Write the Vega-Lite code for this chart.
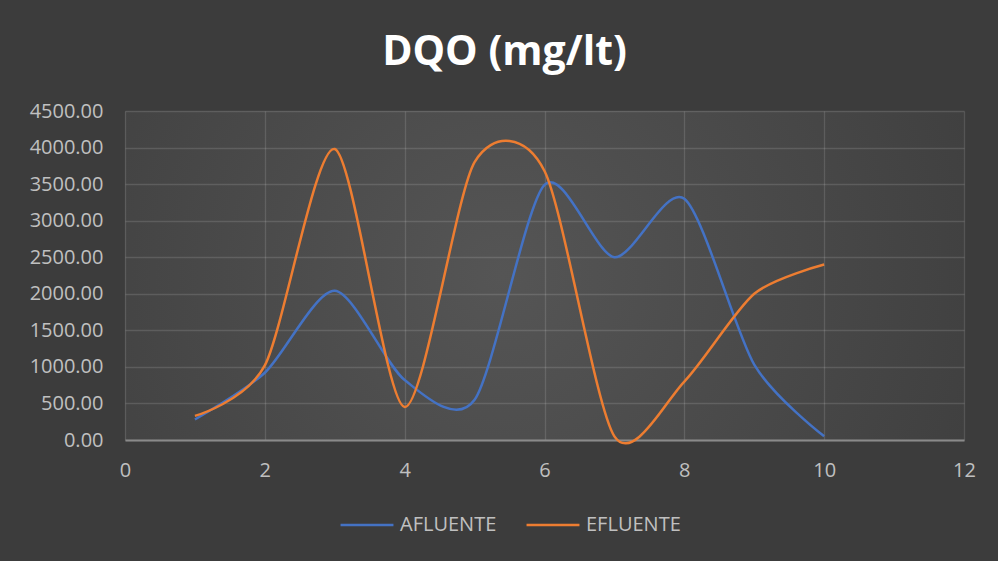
{
  "$schema": "https://vega.github.io/schema/vega-lite/v6.json",
  "width": 839,
  "height": 329,
  "autosize": "none",
  "padding": {"left": 125, "top": 111, "right": 34, "bottom": 121},
  "background": "#3c3c3c",
  "title": {
    "text": "DQO (mg/lt)",
    "font": "Open Sans",
    "fontSize": 41,
    "fontWeight": "bold",
    "color": "#ffffff",
    "anchor": "middle",
    "frame": "group",
    "baseline": "alphabetic",
    "offset": -5,
    "dx": -40
  },
  "data": {
    "values": [
      {"x": 1, "serie": "AFLUENTE", "valor": 280},
      {"x": 2, "serie": "AFLUENTE", "valor": 920},
      {"x": 3, "serie": "AFLUENTE", "valor": 2040},
      {"x": 4, "serie": "AFLUENTE", "valor": 820},
      {"x": 5, "serie": "AFLUENTE", "valor": 550},
      {"x": 6, "serie": "AFLUENTE", "valor": 3490},
      {"x": 7, "serie": "AFLUENTE", "valor": 2500},
      {"x": 8, "serie": "AFLUENTE", "valor": 3300},
      {"x": 9, "serie": "AFLUENTE", "valor": 1030},
      {"x": 10, "serie": "AFLUENTE", "valor": 50},
      {"x": 1, "serie": "EFLUENTE", "valor": 330},
      {"x": 2, "serie": "EFLUENTE", "valor": 1020},
      {"x": 3, "serie": "EFLUENTE", "valor": 3980},
      {"x": 4, "serie": "EFLUENTE", "valor": 450},
      {"x": 5, "serie": "EFLUENTE", "valor": 3800},
      {"x": 6, "serie": "EFLUENTE", "valor": 3680},
      {"x": 7, "serie": "EFLUENTE", "valor": 50},
      {"x": 8, "serie": "EFLUENTE", "valor": 800},
      {"x": 9, "serie": "EFLUENTE", "valor": 2000},
      {"x": 10, "serie": "EFLUENTE", "valor": 2400}
    ]
  },
  "mark": {"type": "line", "interpolate": "cardinal", "tension": 0.2, "strokeWidth": 2.5, "clip": false},
  "encoding": {
    "x": {
      "field": "x",
      "type": "quantitative",
      "scale": {"domain": [0, 12], "nice": false, "zero": false},
      "axis": {
        "title": null,
        "values": [0, 2, 4, 6, 8, 10, 12],
        "format": "d",
        "grid": true,
        "gridColor": "#ffffff",
        "gridOpacity": 0.13,
        "gridWidth": 1.3,
        "ticks": false,
        "domain": true,
        "domainColor": "#8a8a8a",
        "domainWidth": 2,
        "labelFlush": false,
        "labelFont": "Open Sans",
        "labelFontSize": 20,
        "labelColor": "#c0c0c0",
        "labelPadding": 20
      }
    },
    "y": {
      "field": "valor",
      "type": "quantitative",
      "scale": {"domain": [0, 4500], "nice": false},
      "axis": {
        "title": null,
        "values": [0, 500, 1000, 1500, 2000, 2500, 3000, 3500, 4000, 4500],
        "format": ".2f",
        "grid": true,
        "gridColor": "#ffffff",
        "gridOpacity": 0.13,
        "gridWidth": 1.3,
        "ticks": false,
        "domain": false,
        "labelFont": "Open Sans",
        "labelFontSize": 20,
        "labelColor": "#c0c0c0",
        "labelPadding": 22
      }
    },
    "color": {
      "field": "serie",
      "type": "nominal",
      "scale": {"domain": ["AFLUENTE", "EFLUENTE"], "range": ["#4472C4", "#ED7D31"]},
      "legend": {
        "title": null,
        "orient": "none",
        "direction": "horizontal",
        "legendX": 214,
        "legendY": 386,
        "symbolType": "stroke",
        "symbolSize": 2800,
        "symbolStrokeWidth": 2.5,
        "labelFont": "Open Sans",
        "labelFontSize": 20,
        "labelColor": "#c0c0c0",
        "labelOffset": 5,
        "columnPadding": 24
      }
    }
  },
  "config": {
    "view": {
      "stroke": null,
      "fill": {
        "gradient": "radial",
        "x1": 0.45, "y1": 0.5, "r1": 0,
        "x2": 0.45, "y2": 0.5, "r2": 0.75,
        "stops": [
          {"offset": 0, "color": "#555555"},
          {"offset": 1, "color": "#3a3a3a"}
        ]
      }
    }
  }
}
